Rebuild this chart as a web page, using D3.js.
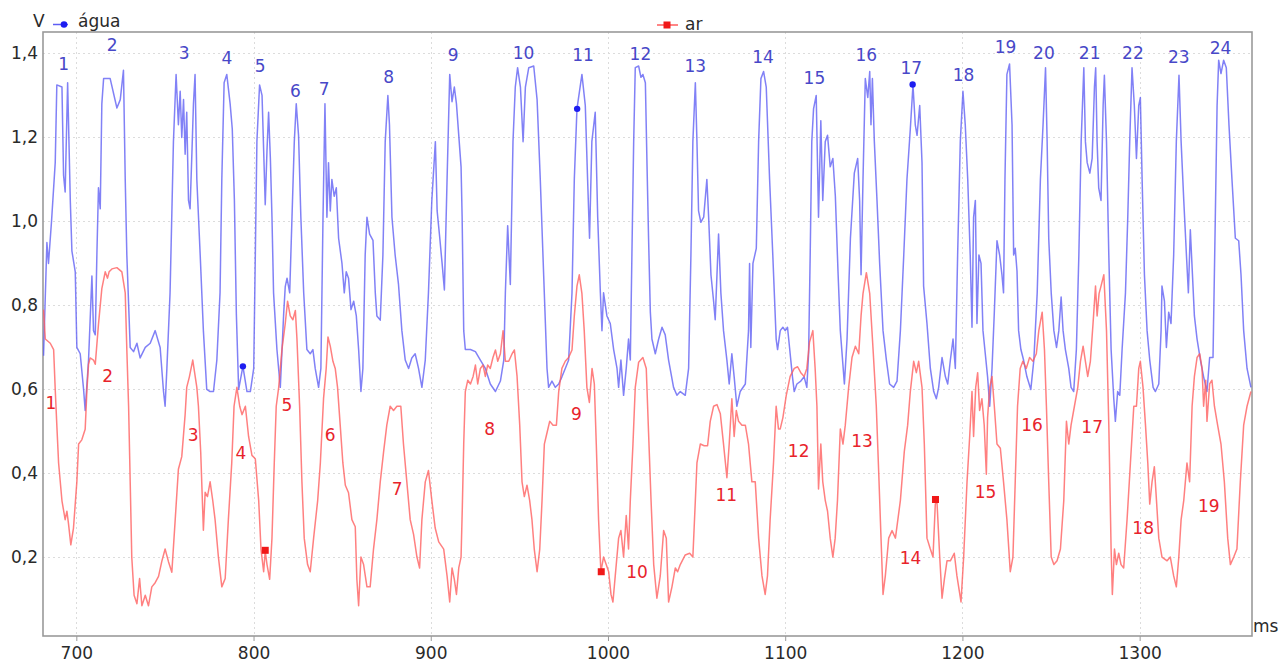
<!DOCTYPE html>
<html><head><meta charset="utf-8">
<script src="https://cdn.jsdelivr.net/npm/d3@7"></script>
<style>body{margin:0;background:#fff}svg{display:block}</style>
</head><body><svg id="c" width="1288" height="666"></svg>
<script>
const xTickValues = [700, 800, 900, 1000, 1100, 1200, 1300];
const yTickValues = [0.2, 0.4, 0.6, 0.8, 1.0, 1.2, 1.4];
const seriesNames = ["água", "ar"];

// água (blue): [ms, V]
const aguaSeries = [[681.5,0.68],[683.4,0.95],[684.3,0.90],[686,1.0],[688.1,1.14],[689.0,1.325],[691.9,1.32],[692.8,1.11],[693.7,1.07],[695.1,1.33],[696.6,1.05],[697.5,0.93],[699.4,0.88],[700.3,0.70],[702.2,0.685],[704.1,0.60],[705.0,0.55],[706.9,0.67],[708.8,0.87],[709.7,0.74],[710.7,0.73],[711.6,0.92],[712.5,1.08],[713.5,1.03],[714.4,1.28],[715.4,1.34],[719.1,1.34],[722.9,1.27],[724.8,1.29],[726.6,1.36],[727.6,1.10],[728.5,0.92],[730.4,0.70],[732.3,0.69],[734.2,0.71],[736.0,0.675],[738.9,0.70],[741.7,0.71],[744.5,0.74],[747.3,0.70],[749.2,0.595],[750.1,0.56],[751.1,0.65],[752.9,0.83],[754.8,1.19],[756.3,1.35],[757.6,1.23],[758.6,1.31],[759.5,1.20],[760.5,1.29],[761.4,1.16],[762.3,1.26],[763.3,1.05],[764.2,1.03],[765.2,1.16],[766.1,1.28],[767.0,1.35],[768.0,1.10],[769.9,0.92],[771.7,0.74],[773.6,0.60],[775.5,0.595],[777.4,0.595],[779.3,0.67],[781.1,0.83],[782.1,1.10],[783.4,1.33],[784.9,1.35],[786.8,1.28],[788.0,1.22],[789.2,1.05],[790.3,0.78],[791.6,0.60],[794.0,0.655],[796.3,0.595],[798.2,0.595],[800.1,0.65],[801.0,0.92],[801.9,1.19],[803.4,1.325],[804.8,1.30],[805.7,1.17],[806.6,1.04],[807.6,1.17],[808.5,1.26],[809.5,1.15],[810.4,1.01],[811.3,0.83],[813.2,0.695],[815.1,0.605],[817.0,0.78],[817.9,0.845],[818.9,0.865],[820.4,0.83],[821.7,1.01],[823.0,1.19],[824.1,1.28],[825.4,1.205],[826.7,1.01],[828.3,0.83],[830.1,0.695],[832.0,0.685],[833.5,0.695],[834.8,0.65],[836.7,0.605],[838.0,0.65],[839.2,1.01],[840.3,1.28],[841.4,1.01],[842.3,1.14],[843.3,1.025],[844.2,1.10],[845.5,1.06],[846.7,1.08],[848.0,0.96],[849.9,0.90],[851.2,0.83],[852.3,0.88],[853.6,0.865],[855.0,0.79],[856.5,0.81],[858.0,0.775],[859.3,0.695],[860.6,0.595],[861.7,0.65],[863.0,0.92],[864.0,1.01],[865.5,0.97],[867.4,0.955],[868.7,0.83],[869.6,0.775],[871.5,0.765],[873.0,0.92],[874.3,1.19],[875.8,1.30],[876.7,1.23],[878.1,1.01],[879.9,0.92],[881.8,0.85],[883.7,0.74],[885.6,0.67],[887.5,0.65],[889.3,0.675],[891.2,0.685],[893.1,0.65],[895.0,0.605],[896.9,0.67],[898.7,0.83],[900.6,1.05],[902.6,1.19],[903.6,1.025],[905.1,0.96],[906.4,0.90],[907.7,0.837],[909.2,1.10],[910.7,1.35],[912.0,1.285],[913.3,1.32],[914.5,1.28],[915.8,1.205],[917.1,1.13],[917.7,1.01],[918.6,0.74],[919.5,0.695],[922.4,0.695],[925.2,0.69],[928.0,0.67],[930.8,0.65],[933.6,0.613],[936.5,0.595],[939.3,0.62],[941.2,0.67],[942.1,0.83],[943.4,0.99],[944.9,0.85],[946.4,1.19],[947.7,1.32],[949.0,1.366],[950.6,1.32],[952.1,1.19],[953.4,1.32],[955.3,1.366],[958.1,1.37],[960.0,1.29],[961.8,1.10],[963.7,0.873],[965.6,0.65],[966.5,0.605],[968.4,0.62],[970.3,0.605],[972.2,0.613],[974.0,0.63],[975.9,0.65],[977.8,0.67],[979.7,0.83],[981.0,1.10],[982.5,1.268],[985.3,1.35],[987.2,1.276],[988.5,1.10],[989.6,0.96],[990.9,1.19],[992.8,1.26],[994.2,1.01],[995.7,0.83],[996.6,0.74],[997.5,0.83],[999.4,0.775],[1001.3,0.757],[1003.2,0.695],[1005.1,0.65],[1006.0,0.605],[1007.3,0.67],[1008.8,0.586],[1010.3,0.65],[1011.6,0.72],[1012.6,0.67],[1013.5,0.92],[1014.5,1.19],[1015.4,1.366],[1017.3,1.37],[1018.6,1.343],[1019.7,1.35],[1021.1,1.33],[1022.0,1.14],[1022.9,0.96],[1023.9,0.784],[1024.8,0.72],[1026.7,0.685],[1028.6,0.72],[1030.5,0.748],[1032.3,0.73],[1034.2,0.67],[1037.0,0.605],[1038.9,0.586],[1040.8,0.595],[1043.6,0.586],[1045.5,0.65],[1046.8,0.92],[1047.9,1.19],[1049.3,1.33],[1050.2,1.19],[1051.1,1.025],[1052.4,0.998],[1054.0,1.01],[1055.8,1.10],[1056.8,1.01],[1058.1,0.873],[1059.6,0.81],[1060.5,0.766],[1061.5,0.873],[1062.4,0.97],[1063.7,0.83],[1065.2,0.74],[1067.1,0.67],[1068.4,0.613],[1069.9,0.685],[1071.2,0.63],[1072.7,0.56],[1074.6,0.595],[1077.5,0.613],[1079.3,0.74],[1079.9,0.90],[1080.6,0.70],[1081.8,0.90],[1083.7,0.936],[1085.0,1.19],[1086.3,1.34],[1087.8,1.357],[1089.3,1.32],[1091.2,1.10],[1093.0,0.92],[1094.9,0.72],[1095.7,0.695],[1097.2,0.74],[1098.7,0.748],[1100.0,0.74],[1101.3,0.748],[1102.8,0.685],[1104.1,0.63],[1105.1,0.595],[1106.6,0.613],[1108.8,0.62],[1110.7,0.63],[1112.2,0.605],[1113.2,0.685],[1114.1,0.92],[1115.0,1.19],[1116.0,1.268],[1117.5,1.30],[1118.8,1.01],[1120.1,1.24],[1121.2,1.05],[1122.6,1.19],[1123.9,1.205],[1125.4,1.13],[1126.9,1.15],[1128.3,1.06],[1129.8,0.88],[1131.1,0.74],[1133.4,0.613],[1134.9,0.72],[1136.8,0.96],[1139.0,1.115],[1140.9,1.15],[1142.0,1.05],[1142.8,0.873],[1143.9,1.10],[1145.2,1.34],[1146.6,1.295],[1147.7,1.357],[1148.4,1.23],[1149.2,1.34],[1150.3,1.19],[1151.8,1.05],[1153.3,0.90],[1155.2,0.74],[1157.1,0.67],[1158.9,0.613],[1161.2,0.605],[1163.1,0.62],[1165.0,0.74],[1166.9,0.92],[1168.7,1.10],[1170.6,1.22],[1172.1,1.325],[1173.4,1.23],[1174.4,1.205],[1175.9,1.276],[1177.2,1.14],[1178.1,0.846],[1180.0,0.757],[1181.9,0.65],[1183.8,0.595],[1185.3,0.578],[1186.6,0.605],[1188.5,0.676],[1190.4,0.63],[1191.7,0.613],[1193.2,0.67],[1194.7,0.72],[1196.0,0.65],[1197.3,0.92],[1198.8,1.19],[1200.3,1.31],[1201.6,1.23],[1203.0,1.10],[1204.4,0.92],[1205.4,0.748],[1206.3,1.01],[1207.3,1.05],[1208.2,0.757],[1209.3,0.92],[1210.5,0.90],[1211.6,0.74],[1212.9,0.685],[1214.2,0.63],[1215.4,0.56],[1216.7,0.65],[1218.0,0.784],[1219.5,0.954],[1221.0,0.92],[1222.3,0.873],[1223.2,0.83],[1224.0,1.10],[1225.1,1.35],[1226.6,1.375],[1228.0,1.23],[1228.9,0.92],[1229.8,0.936],[1230.8,0.882],[1231.7,0.74],[1233.0,0.695],[1234.5,0.67],[1236.4,0.63],[1238.6,0.60],[1240.3,0.67],[1242.2,0.83],[1244.0,1.10],[1245.5,1.23],[1246.9,1.366],[1247.8,1.19],[1248.7,0.96],[1250.1,0.83],[1251.6,0.74],[1253.1,0.70],[1254.4,0.74],[1255.7,0.82],[1256.8,0.74],[1258.1,0.695],[1260.0,0.65],[1261.3,0.605],[1262.8,0.595],[1264.3,0.695],[1265.7,0.92],[1267.0,1.19],[1268.5,1.366],[1269.4,1.19],[1270.4,1.14],[1271.9,1.115],[1273.2,1.15],[1274.5,1.32],[1275.2,1.366],[1276.0,1.19],[1276.9,1.08],[1278.2,1.05],[1279.4,1.276],[1280.1,1.348],[1281.3,1.19],[1282.6,0.92],[1283.9,0.695],[1285.4,0.578],[1286.3,0.524],[1287.6,0.595],[1288.8,0.586],[1290.1,0.695],[1292.0,0.83],[1293.3,1.01],[1294.4,1.19],[1295.7,1.366],[1297.0,1.276],[1298.2,1.15],[1299.5,1.276],[1300.4,1.295],[1301.4,1.10],[1302.7,0.873],[1304.2,0.74],[1305.7,0.67],[1307.6,0.605],[1308.9,0.595],[1310.8,0.613],[1312.1,0.74],[1312.6,0.846],[1314.0,0.81],[1315.1,0.70],[1316.4,0.784],[1317.7,0.757],[1319.2,0.92],[1320.7,1.19],[1322.2,1.348],[1323.4,1.19],[1324.9,1.05],[1326.4,0.92],[1327.5,0.83],[1328.6,0.98],[1329.8,0.873],[1330.9,0.775],[1332.4,0.72],[1334.3,0.67],[1336.1,0.63],[1338.0,0.595],[1339.5,0.676],[1341.4,0.676],[1342.7,1.01],[1343.7,1.276],[1344.6,1.384],[1345.9,1.352],[1347.4,1.384],[1348.9,1.366],[1350.4,1.23],[1352.1,1.10],[1354.0,0.96],[1355.9,0.954],[1357.2,0.873],[1358.7,0.74],[1360.6,0.65],[1362.8,0.605]];

// ar (red): [ms, V]
const arSeries = [[681.5,0.79],[682.5,0.72],[685.3,0.71],[687.2,0.695],[688.1,0.60],[689.0,0.515],[690.0,0.425],[691.9,0.335],[693.7,0.29],[694.7,0.31],[695.6,0.28],[696.9,0.23],[698.4,0.27],[700.3,0.38],[701.3,0.47],[703.1,0.48],[705.0,0.505],[706.0,0.60],[706.9,0.66],[707.8,0.675],[709.7,0.67],[710.7,0.66],[712.5,0.755],[714.4,0.84],[716.3,0.88],[717.6,0.865],[718.5,0.88],[720.1,0.887],[722.9,0.89],[725.7,0.88],[727.6,0.83],[728.5,0.695],[729.5,0.56],[730.4,0.38],[731.3,0.20],[732.6,0.11],[734.2,0.09],[735.7,0.15],[737.0,0.085],[738.9,0.11],[740.7,0.085],[742.6,0.13],[744.5,0.14],[746.4,0.155],[748.2,0.19],[750.1,0.22],[752.0,0.19],[753.9,0.165],[755.8,0.29],[757.6,0.41],[759.5,0.44],[761.4,0.54],[762.3,0.605],[763.8,0.63],[765.7,0.67],[768.0,0.605],[768.9,0.56],[770.2,0.45],[771.7,0.265],[772.7,0.355],[774.0,0.345],[775.5,0.38],[777.0,0.335],[778.3,0.29],[780.2,0.20],[782.1,0.13],[784.0,0.15],[785.8,0.29],[787.7,0.425],[789.0,0.56],[790.6,0.605],[792.2,0.56],[793.5,0.54],[795.4,0.56],[797.2,0.488],[799.1,0.443],[801.0,0.435],[802.9,0.336],[804.2,0.22],[805.7,0.166],[806.6,0.215],[807.6,0.183],[809.1,0.148],[810.4,0.246],[811.7,0.425],[812.8,0.56],[814.2,0.605],[816.0,0.694],[817.9,0.757],[819.2,0.81],[820.7,0.775],[822.2,0.766],[823.6,0.788],[824.5,0.72],[826.0,0.56],[827.3,0.38],[828.6,0.246],[830.5,0.183],[832.0,0.166],[833.9,0.246],[836.2,0.336],[837.7,0.425],[839.5,0.578],[841.0,0.65],[842.0,0.725],[843.3,0.703],[844.8,0.667],[846.1,0.65],[847.4,0.605],[848.9,0.515],[850.4,0.425],[851.8,0.372],[853.6,0.354],[855.5,0.29],[857.4,0.273],[858.3,0.148],[859.3,0.085],[860.6,0.201],[862.1,0.183],[864.0,0.13],[865.8,0.13],[867.7,0.22],[869.6,0.29],[871.5,0.38],[873.4,0.452],[875.2,0.515],[877.1,0.56],[879.0,0.55],[880.9,0.56],[883.1,0.56],[884.6,0.47],[886.5,0.38],[888.4,0.29],[890.3,0.255],[892.2,0.201],[893.7,0.175],[895.0,0.29],[896.9,0.38],[898.7,0.407],[900.6,0.336],[902.5,0.27],[904.5,0.237],[907.3,0.22],[909.2,0.156],[910.7,0.094],[912.0,0.175],[913.3,0.148],[914.5,0.112],[915.8,0.175],[917.1,0.201],[917.8,0.318],[918.6,0.47],[919.5,0.595],[920.9,0.622],[922.4,0.613],[923.9,0.631],[925.2,0.658],[926.5,0.613],[928.0,0.65],[929.5,0.658],[930.8,0.631],[932.1,0.658],[933.6,0.65],[935.1,0.676],[936.5,0.694],[937.8,0.667],[939.3,0.685],[940.8,0.74],[942.1,0.667],[944.0,0.667],[945.9,0.685],[947.2,0.694],[948.7,0.631],[950.2,0.515],[951.5,0.38],[952.8,0.345],[954.3,0.372],[955.8,0.336],[957.1,0.29],[958.4,0.22],[960.0,0.166],[961.5,0.22],[962.8,0.336],[964.1,0.47],[965.6,0.497],[967.1,0.524],[969.0,0.515],[970.9,0.515],[972.2,0.595],[974.0,0.65],[975.9,0.667],[977.8,0.676],[979.7,0.694],[981.0,0.775],[982.5,0.846],[983.8,0.873],[985.3,0.828],[986.6,0.74],[988.1,0.605],[989.5,0.569],[991.0,0.65],[992.3,0.613],[993.4,0.47],[994.7,0.29],[996.0,0.166],[997.5,0.201],[999.0,0.183],[1000.4,0.166],[1001.7,0.112],[1002.8,0.094],[1004.1,0.156],[1006.0,0.246],[1007.3,0.264],[1008.8,0.201],[1010.3,0.30],[1011.6,0.22],[1012.6,0.336],[1014.1,0.47],[1015.4,0.605],[1017.3,0.665],[1019.7,0.676],[1021.6,0.65],[1022.9,0.497],[1024.3,0.336],[1025.8,0.183],[1027.6,0.103],[1029.5,0.156],[1031.4,0.264],[1032.9,0.246],[1034.2,0.094],[1036.1,0.13],[1038.0,0.175],[1039.3,0.166],[1040.8,0.183],[1043.6,0.206],[1046.1,0.21],[1047.9,0.201],[1049.3,0.336],[1050.2,0.425],[1052.1,0.47],[1054.3,0.466],[1056.2,0.466],[1057.7,0.524],[1059.6,0.56],[1061.5,0.564],[1063.4,0.542],[1065.2,0.47],[1067.1,0.39],[1068.4,0.47],[1069.9,0.578],[1071.2,0.488],[1072.4,0.55],[1073.7,0.524],[1075.6,0.515],[1077.5,0.515],[1079.3,0.47],[1081.2,0.38],[1083.1,0.38],[1085.0,0.246],[1086.9,0.156],[1088.7,0.112],[1090.0,0.156],[1091.5,0.29],[1093.4,0.425],[1094.9,0.56],[1096.2,0.506],[1097.2,0.506],[1098.7,0.533],[1100.6,0.586],[1102.8,0.631],[1105.1,0.65],[1107.0,0.654],[1108.8,0.64],[1110.7,0.631],[1112.2,0.65],[1113.7,0.712],[1115.6,0.74],[1116.9,0.65],[1117.9,0.56],[1118.8,0.363],[1120.1,0.47],[1121.2,0.38],[1122.6,0.336],[1123.9,0.31],[1125.4,0.246],[1126.9,0.201],[1128.2,0.246],[1129.5,0.336],[1131.1,0.506],[1132.6,0.47],[1133.9,0.515],[1135.8,0.605],[1137.7,0.676],[1139.6,0.703],[1141.5,0.685],[1142.8,0.775],[1143.9,0.828],[1145.8,0.878],[1147.7,0.828],[1149.6,0.694],[1151.4,0.56],[1152.8,0.398],[1153.7,0.29],[1155.2,0.112],[1156.5,0.156],[1158.4,0.246],[1160.3,0.264],[1162.2,0.246],[1165.0,0.336],[1167.2,0.452],[1169.1,0.515],[1170.6,0.595],[1172.5,0.667],[1174.0,0.64],[1175.3,0.667],[1177.2,0.605],[1178.5,0.47],[1180.0,0.246],[1181.9,0.22],[1183.4,0.201],[1184.7,0.327],[1185.6,0.336],[1187.2,0.201],[1188.5,0.103],[1189.8,0.148],[1191.3,0.192],[1193.2,0.192],[1195.4,0.21],[1196.9,0.156],[1199.2,0.094],[1200.7,0.201],[1202.6,0.38],[1204.1,0.488],[1205.4,0.595],[1206.3,0.488],[1207.5,0.605],[1208.6,0.64],[1209.7,0.55],[1211.0,0.578],[1212.3,0.515],[1213.5,0.398],[1214.2,0.533],[1215.4,0.605],[1216.7,0.631],[1218.0,0.56],[1219.5,0.47],[1221.4,0.46],[1223.2,0.38],[1225.1,0.29],[1227.0,0.166],[1228.5,0.201],[1229.8,0.38],[1231.1,0.56],[1232.6,0.65],[1234.1,0.667],[1236.0,0.65],[1237.9,0.676],[1239.8,0.667],[1241.7,0.685],[1243.1,0.74],[1245.0,0.784],[1246.3,0.694],[1247.4,0.56],[1248.7,0.38],[1250.1,0.201],[1251.6,0.183],[1253.4,0.192],[1255.3,0.22],[1257.2,0.336],[1258.7,0.524],[1260.0,0.47],[1261.3,0.515],[1263.2,0.56],[1265.1,0.605],[1266.6,0.667],[1268.1,0.703],[1269.4,0.667],[1270.7,0.631],[1272.2,0.667],[1273.7,0.757],[1275.1,0.846],[1276.0,0.775],[1277.1,0.828],[1278.2,0.846],[1279.8,0.873],[1281.3,0.74],[1282.6,0.515],[1283.9,0.22],[1284.6,0.112],[1285.8,0.22],[1286.9,0.183],[1288.2,0.21],[1289.5,0.183],[1291.0,0.175],[1292.9,0.29],[1294.8,0.425],[1296.7,0.56],[1298.2,0.56],[1299.5,0.65],[1300.4,0.667],[1301.9,0.605],[1303.3,0.515],[1304.6,0.425],[1305.7,0.327],[1307.0,0.38],[1308.3,0.416],[1309.5,0.336],[1310.8,0.246],[1312.6,0.201],[1315.5,0.192],[1317.3,0.201],[1319.2,0.156],[1320.7,0.13],[1322.1,0.201],[1323.4,0.29],[1324.9,0.336],[1326.7,0.425],[1328.2,0.38],[1329.6,0.56],[1330.9,0.631],[1332.4,0.676],[1333.9,0.685],[1335.2,0.65],[1336.1,0.56],[1337.3,0.622],[1338.0,0.524],[1339.5,0.613],[1340.8,0.622],[1342.2,0.56],[1344.0,0.515],[1345.9,0.47],[1347.8,0.38],[1349.7,0.246],[1351.2,0.183],[1353.1,0.201],[1354.9,0.22],[1356.8,0.38],[1358.7,0.515],[1360.6,0.56],[1362.8,0.595]];

// numbered annotations [ms, V]; text is the 1-based index
const aguaLabelPos = [[692.8,1.376],[720.2,1.420],[760.9,1.402],[785.0,1.389],[803.8,1.370],[823.6,1.312],[839.9,1.316],[876.2,1.343],[912.6,1.397],[952.4,1.402],[985.9,1.397],[1018.3,1.400],[1049.3,1.370],[1087.5,1.392],[1116.5,1.341],[1145.8,1.397],[1171.2,1.366],[1200.6,1.348],[1224.3,1.415],[1246.0,1.402],[1271.8,1.402],[1296.2,1.402],[1322.1,1.392],[1345.6,1.413]];
const arLabelPos = [[685.6,0.569],[717.7,0.632],[765.9,0.493],[792.9,0.448],[818.9,0.564],[843.3,0.493],[881.0,0.363],[933.2,0.506],[982.2,0.542],[1016.4,0.165],[1066.8,0.349],[1107.6,0.454],[1143.4,0.477],[1170.7,0.200],[1213.0,0.355],[1239.3,0.515],[1273.2,0.510],[1302.0,0.271],[1339.0,0.322]];

// point markers [ms, V]
const aguaMarks = [[794.0,0.655],[982.6,1.268],[1171.9,1.326]];
const arMarks = [[806.6,0.217],[996.2,0.166],[1184.8,0.338]];

const blue = "#5e5ef4", red = "#ff5c5c";
const blueText = "#4848c8", redText = "#e8232b";
const font = "DejaVu Sans, Verdana, sans-serif";

const svg = d3.select("#c");
const L = 43, R = 1252, T = 32, B = 636;
const x = d3.scaleLinear().domain([681.2, 1363.4]).range([L, R]);
const y = d3.scaleLinear().domain([0.013, 1.451]).range([B, T]);

svg.append("defs").append("clipPath").attr("id", "clip")
  .append("rect").attr("x", L).attr("y", T).attr("width", R - L).attr("height", B - T);

// grid
const grid = svg.append("g").attr("stroke", "#dcdcdc").attr("stroke-width", 1).attr("stroke-dasharray", "2,3");
grid.selectAll(".gx").data(xTickValues).join("line")
  .attr("x1", d => Math.round(x(d)) + 0.5).attr("x2", d => Math.round(x(d)) + 0.5)
  .attr("y1", T).attr("y2", B);
grid.selectAll(".gy").data(yTickValues).join("line")
  .attr("y1", d => Math.round(y(d)) + 0.5).attr("y2", d => Math.round(y(d)) + 0.5)
  .attr("x1", L).attr("x2", R);

// axes
const xAxis = svg.append("g").attr("transform", `translate(0,${B})`)
  .call(d3.axisBottom(x).tickValues(xTickValues).tickSize(5).tickPadding(6).tickFormat(d3.format("d")));
const yAxis = svg.append("g").attr("transform", `translate(${L},0)`)
  .call(d3.axisLeft(y).tickValues(yTickValues).tickSize(0).tickPadding(5)
    .tickFormat(d => d.toFixed(1).replace(".", ",")));
[xAxis, yAxis].forEach(a => {
  a.select(".domain").remove();
  a.selectAll("line").attr("stroke", "#9a9a9a");
  a.selectAll("text").attr("font-family", font).attr("font-size", 17).attr("fill", "#2a2a2a");
});

// frame
svg.append("rect").attr("x", L).attr("y", T).attr("width", R - L).attr("height", B - T)
  .attr("fill", "none").attr("stroke", "#9a9a9a").attr("stroke-width", 1.6);

// lines
const line = d3.line().x(d => x(d[0])).y(d => y(d[1]));
const plot = svg.append("g").attr("clip-path", "url(#clip)");
plot.append("path").datum(aguaSeries).attr("d", line).attr("fill", "none")
  .attr("stroke", blue).attr("stroke-width", 1.5).attr("stroke-opacity", 0.78).attr("stroke-linejoin", "round");
plot.append("path").datum(arSeries).attr("d", line).attr("fill", "none")
  .attr("stroke", red).attr("stroke-width", 1.5).attr("stroke-opacity", 0.78).attr("stroke-linejoin", "round");

// markers
plot.selectAll(".bm").data(aguaMarks).join("circle")
  .attr("cx", d => x(d[0])).attr("cy", d => y(d[1])).attr("r", 3.2).attr("fill", "#1e1ef0");
plot.selectAll(".rm").data(arMarks).join("rect")
  .attr("x", d => x(d[0]) - 3.5).attr("y", d => y(d[1]) - 3.5).attr("width", 7).attr("height", 7).attr("fill", "#f01818");

// numbered labels
svg.append("g").selectAll("text").data(aguaLabelPos).join("text")
  .attr("x", d => x(d[0])).attr("y", d => y(d[1])).attr("dy", "0.36em")
  .attr("text-anchor", "middle").attr("font-family", font).attr("font-size", 17)
  .attr("fill", blueText).text((d, i) => i + 1);
svg.append("g").selectAll("text").data(arLabelPos).join("text")
  .attr("x", d => x(d[0])).attr("y", d => y(d[1])).attr("dy", "0.36em")
  .attr("text-anchor", "middle").attr("font-family", font).attr("font-size", 17)
  .attr("fill", redText).text((d, i) => i + 1);

// axis titles
svg.append("text").attr("x", 33).attr("y", 27).attr("font-family", font).attr("font-size", 17)
  .attr("fill", "#2a2a2a").text("V");
svg.append("text").attr("x", 1253).attr("y", 632).attr("font-family", font).attr("font-size", 17)
  .attr("fill", "#2a2a2a").text("ms");

// legend
const lg = svg.append("g");
lg.append("line").attr("x1", 53).attr("x2", 68).attr("y1", 24.5).attr("y2", 24.5).attr("stroke", blue).attr("stroke-width", 1.5);
lg.append("circle").attr("cx", 64).attr("cy", 24.5).attr("r", 3.3).attr("fill", "#1e1ef0");
lg.append("text").attr("x", 78).attr("y", 27).attr("font-family", font).attr("font-size", 17).attr("fill", "#2a2a2a").text(seriesNames[0]);
lg.append("line").attr("x1", 657).attr("x2", 678).attr("y1", 25).attr("y2", 25).attr("stroke", red).attr("stroke-width", 1.5);
lg.append("rect").attr("x", 663.5).attr("y", 21.5).attr("width", 7).attr("height", 7).attr("fill", "#f01818");
lg.append("text").attr("x", 685).attr("y", 30).attr("font-family", font).attr("font-size", 17).attr("fill", "#2a2a2a").text(seriesNames[1]);
</script></body></html>
